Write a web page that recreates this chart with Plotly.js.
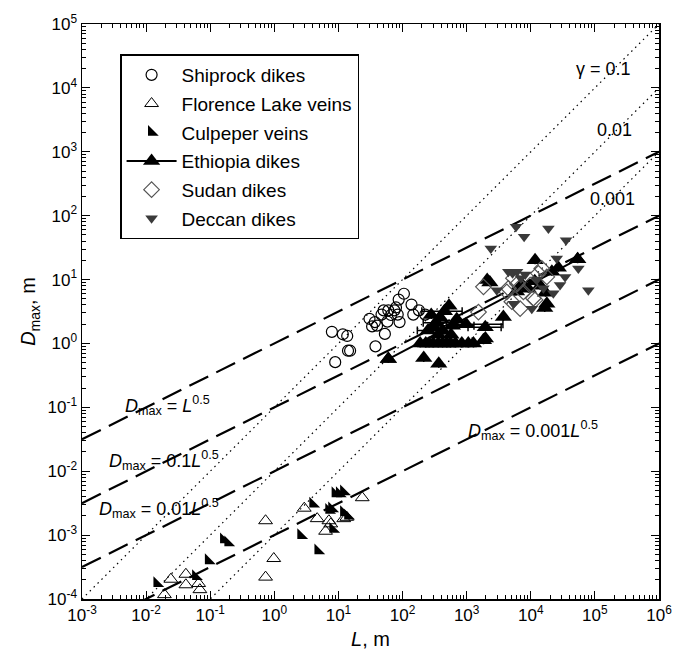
<!DOCTYPE html>
<html>
<head>
<meta charset="utf-8">
<script src="https://cdn.plot.ly/plotly-3.0.1.min.js"></script>
<style>html,body{margin:0;padding:0;background:#fff;}</style>
</head>
<body>
<div id="chart" style="width:673px;height:657px;"></div>
<script>
// ---- Data ----
const shiprockL = [7.9, 11.7, 13.7, 8.9, 14.1, 15.2, 37.8, 30.5, 33.5, 37, 47, 50.7, 53, 60, 66, 74.6, 84, 79, 89.8, 87, 105, 138, 147, 226, 180, 40, 58];
const shiprockD = [1.52, 1.39, 1.31, 0.51, 0.77, 0.77, 0.90, 2.43, 1.85, 2.16, 2.83, 3.29, 1.41, 3.29, 2.79, 3.29, 2.83, 3.66, 2.16, 4.86, 6.0, 4.06, 2.83, 2.83, 3.3, 1.9, 2.2];

const florenceL = [0.0193, 0.0243, 0.0417, 0.0417, 0.066, 0.069, 0.73, 0.73, 0.98, 2.93, 4.66, 6.3, 7.1, 7.6, 12.1, 13.5, 23.5];
const florenceD = [1.17e-4, 2.04e-4, 2.44e-4, 1.67e-4, 1.75e-4, 1.4e-4, 1.68e-3, 2.2e-4, 4.3e-4, 2.64e-3, 1.81e-3, 1.15e-3, 1.68e-3, 1.5e-3, 1.81e-3, 1.9e-3, 3.85e-3];

const culpeperL = [0.0148, 0.0594, 0.094, 0.162, 0.189, 2.6, 4.0, 4.8, 7.1, 8.2, 8.9, 10.4, 12.1, 7.9, 12.1, 14.0];
const culpeperD = [1.75e-4, 2.26e-4, 4.0e-4, 8.5e-4, 7.6e-4, 9.9e-4, 3.07e-3, 5.7e-4, 2.45e-3, 1.24e-3, 4.47e-3, 4.47e-3, 4.8e-3, 2.6e-3, 2.27e-3, 2.0e-3];

const ethiopiaL = [60, 188, 214, 230, 260, 300, 367, 360, 420, 490, 560, 670, 840, 1060, 1276, 250, 300, 390, 450, 530, 420, 360, 570, 330, 280, 980, 1830, 1950, 1960, 3740, 2090, 2300, 7260, 9140, 11530, 11670, 16940, 17800, 16500, 21330, 26900, 53800, 6000, 14000, 600, 700];
const ethiopiaD = [0.57, 1.0, 0.59, 1.0, 1.0, 1.0, 0.48, 1.0, 1.0, 1.0, 1.0, 1.0, 1.0, 1.0, 1.0, 1.6, 1.85, 2.5, 3.2, 3.9, 1.6, 1.37, 1.37, 2.1, 2.8, 2.0, 1.12, 1.8, 1.2, 2.6, 9.8, 9.0, 8.4, 7.2, 9.4, 20.1, 6.2, 4.2, 3.6, 13.2, 15.3, 20.7, 6.5, 8.0, 1.9, 2.4];
const ethiopiaErrMinus = [0, 0, 0, 0, 0, 0, 0, 0, 0, 0, 0, 0, 0, 0, 0, 80, 0, 0, 250, 0, 0, 0, 0, 120, 0, 500, 0, 900, 0, 0, 0, 0, 0, 0, 0, 0, 0, 0, 0, 0, 0, 0, 0, 0, 300, 0];
const ethiopiaErrPlus = [0, 0, 0, 0, 0, 0, 0, 0, 0, 0, 0, 0, 0, 0, 0, 200, 0, 0, 400, 0, 0, 0, 0, 400, 0, 2700, 0, 1500, 0, 0, 0, 0, 0, 0, 0, 0, 0, 0, 0, 0, 0, 0, 0, 0, 700, 0];
const ethiopiaFitL = [60, 53800];
const ethiopiaFitD = [0.57, 20.7];

const sudanL = [1828, 1528, 4480, 5060, 6820, 7680, 11670, 13150, 14860, 17800, 9770, 4230, 10960, 5370, 6200];
const sudanD = [7.7, 3.1, 7.3, 4.5, 3.5, 6.4, 4.8, 12.5, 14.9, 11.0, 8.2, 6.4, 5.1, 10.5, 8.6];

const deccanL = [5890, 7870, 18840, 35500, 2380, 25400, 55200, 79100, 4470, 5200, 6100, 7000, 2950, 5370, 10370, 15740, 22500, 28600, 34300, 8200, 12500];
const deccanD = [66.8, 46.6, 63, 41.4, 30.7, 21.4, 14.9, 6.8, 13.2, 12.5, 13.2, 10.5, 6.8, 4.2, 3.5, 7.3, 6.1, 8.2, 11.0, 12.0, 10.0];

// reference lines
const refL = [0.001, 1000000];
const dashCoef = [1, 0.1, 0.01, 0.001];   // D = c * L^0.5
const gammaVals = [0.1, 0.01, 0.001];      // D = gamma * L

const xTickVals = [1e-3, 1e-2, 1e-1, 1, 10, 100, 1e3, 1e4, 1e5, 1e6];
const xTickText = ['10<sup>-3</sup>','10<sup>-2</sup>','10<sup>-1</sup>','10<sup>0</sup>','10<sup>1</sup>','10<sup>2</sup>','10<sup>3</sup>','10<sup>4</sup>','10<sup>5</sup>','10<sup>6</sup>'];
const yTickVals = [1e-4, 1e-3, 1e-2, 1e-1, 1, 10, 100, 1e3, 1e4, 1e5];
const yTickText = ['10<sup>-4</sup>','10<sup>-3</sup>','10<sup>-2</sup>','10<sup>-1</sup>','10<sup>0</sup>','10<sup>1</sup>','10<sup>2</sup>','10<sup>3</sup>','10<sup>4</sup>','10<sup>5</sup>'];

// ---- Traces ----
const traces = [];
dashCoef.forEach(c => {
  traces.push({x: refL, y: refL.map(l => c * Math.sqrt(l)), mode: 'lines', showlegend: false, hoverinfo: 'skip',
    line: {color: '#000', width: 2.2, dash: '21px,9px'}});
});
gammaVals.forEach(g => {
  traces.push({x: refL, y: refL.map(l => g * l), mode: 'lines', showlegend: false, hoverinfo: 'skip',
    line: {color: '#000', width: 1.2, dash: '1.5px,4px'}});
});

traces.push({name: 'Shiprock dikes', x: shiprockL, y: shiprockD, mode: 'markers', legendrank: 1, legendgroup: 'a',
  marker: {symbol: 'circle-open', size: 11, color: '#000', line: {width: 1.2, color: '#000'}}});
traces.push({name: 'Florence Lake veins', x: florenceL, y: florenceD, mode: 'markers', legendrank: 2, legendgroup: 'b',
  marker: {symbol: 'triangle-up-open', size: 12, color: '#000', line: {width: 1, color: '#000'}}});
traces.push({name: 'Culpeper veins', x: culpeperL, y: culpeperD, mode: 'markers', legendrank: 3, legendgroup: 'c',
  marker: {symbol: 'triangle-sw', size: 12, color: '#000'}});
traces.push({name: 'Ethiopia data', x: ethiopiaL, y: ethiopiaD, mode: 'markers', showlegend: false,
  error_x: {type: 'data', symmetric: false, array: ethiopiaErrPlus, arrayminus: ethiopiaErrMinus, color: '#000', thickness: 1.5, width: 4},
  marker: {symbol: 'triangle-up', size: 15, color: '#000'}});
traces.push({name: 'Ethiopia dikes', x: ethiopiaFitL, y: ethiopiaFitD, mode: 'lines+markers', legendrank: 4, legendgroup: 'd',
  line: {color: '#000', width: 2}, marker: {symbol: 'triangle-up', size: 15, color: '#000'}});
traces.push({name: 'Sudan dikes', x: sudanL, y: sudanD, mode: 'markers', legendrank: 5, legendgroup: 'e',
  marker: {symbol: 'diamond-open', size: 12, color: '#555', line: {width: 1.2, color: '#555'}}});
traces.push({name: 'Deccan dikes', x: deccanL, y: deccanD, mode: 'markers', legendrank: 6, legendgroup: 'f',
  marker: {symbol: 'triangle-down', size: 11, color: '#3a3a3a'}});

// ---- Layout ----
const fnt = 'Arial, "Liberation Sans", Helvetica, sans-serif';
const axisCommon = {
  type: 'log', showline: true, linecolor: '#000', linewidth: 1.5, mirror: 'ticks',
  ticks: 'inside', ticklen: 8, tickwidth: 1, tickcolor: '#000', showgrid: false, zeroline: false,
  tickmode: 'array', tickfont: {family: fnt, size: 17, color: '#000'},
  minor: {dtick: 'D1', ticks: 'inside', ticklen: 4, tickwidth: 1, tickcolor: '#000', showgrid: false}
};

const ann = (x, y, text, size) => ({x: x, y: y, xref: 'x', yref: 'y', text: text, showarrow: false,
  font: {family: fnt, size: size || 18, color: '#000'}, xanchor: 'center', yanchor: 'middle', bgcolor: 'rgba(0,0,0,0)'});

const layout = {
  width: 673, height: 657,
  margin: {l: 82, r: 14, t: 24, b: 58},
  paper_bgcolor: '#fff', plot_bgcolor: '#fff',
  font: {family: fnt, color: '#000'},
  xaxis: Object.assign({}, axisCommon, {range: [-3, 6], tickvals: xTickVals, ticktext: xTickText,
    title: {text: '<i>L</i>, m', font: {family: fnt, size: 20, color: '#000'}, standoff: 8}}),
  yaxis: Object.assign({}, axisCommon, {range: [-4, 5], tickvals: yTickVals, ticktext: yTickText,
    title: {text: '<i>D</i><sub>max</sub>, m', font: {family: fnt, size: 20, color: '#000'}, standoff: 6}}),
  legend: {x: 0.066, y: 0.947, xanchor: 'left', yanchor: 'top', bgcolor: '#fff', bordercolor: '#000', borderwidth: 1.5,
    font: {family: fnt, size: 19, color: '#000'}, traceorder: 'grouped', tracegroupgap: 1, itemwidth: 50},
  annotations: [
    ann(5.13, 4.29, 'γ = 0.1'),
    ann(5.31, 3.344, '0.01'),
    ann(5.28, 2.265, '0.001'),
    ann(-1.66, -0.975, '<i>D</i><sub>max</sub> = <i>L</i><sup>0.5</sup>'),
    ann(-1.72, -1.826, '<i>D</i><sub>max</sub> = 0.1<i>L</i><sup>0.5</sup>'),
    ann(-1.795, -2.58, '<i>D</i><sub>max</sub> = 0.01<i>L</i><sup>0.5</sup>'),
    ann(4.04, -1.37, '<i>D</i><sub>max</sub> = 0.001<i>L</i><sup>0.5</sup>')
  ],
  showlegend: true
};

Plotly.newPlot('chart', traces, layout, {staticPlot: true, displayModeBar: false});
</script>
</body>
</html>
